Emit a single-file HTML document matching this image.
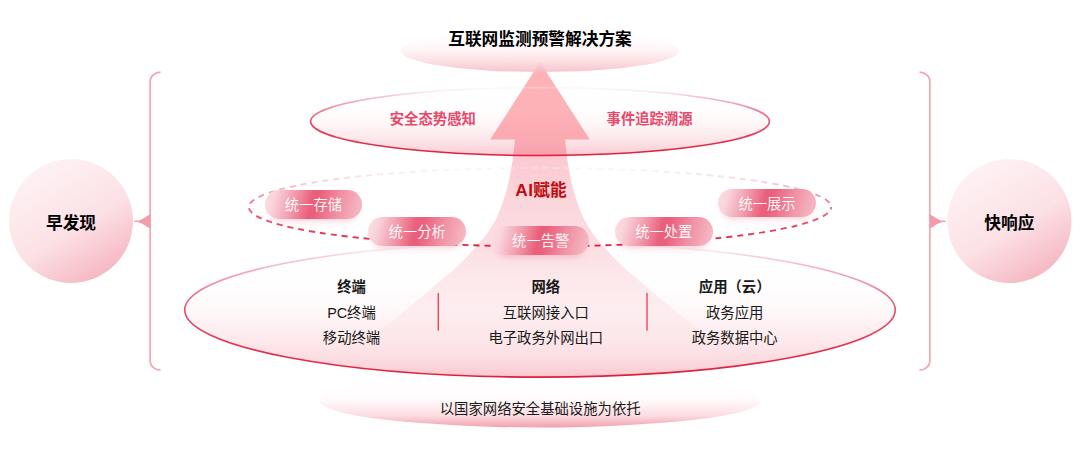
<!DOCTYPE html>
<html lang="zh-CN">
<head>
<meta charset="utf-8">
<title>互联网监测预警解决方案</title>
<style>
html,body{margin:0;padding:0;background:#fff;}
body{width:1080px;height:453px;overflow:hidden;position:relative;font-family:"Liberation Sans","Noto Sans CJK SC",sans-serif;}
#stage{position:absolute;left:0;top:0;width:1080px;height:453px;overflow:hidden;}
svg{position:absolute;left:0;top:0;display:block;}
.t{position:absolute;white-space:nowrap;transform:translate(-50%,-50%);line-height:1;color:#1a1a1a;font-size:14.35px;}
.b{font-weight:700;}
.h{font-size:16.7px;font-weight:700;color:#000;}
.r{color:#e8486a;font-weight:700;}
.pill{position:absolute;width:97.6px;height:28.6px;border-radius:14.3px;
 background:linear-gradient(104deg,#fce0e5 0%,#f9d3da 11%,#f299ab 30%,#ea607c 47%,#ea5f7b 53%,#f193a6 76%,#f6bfc9 100%);
 box-shadow:0 7px 7px -5px rgba(235,90,120,.28);
 color:#fff;font-size:14.3px;line-height:28.6px;text-align:center;font-weight:350;padding-top:1px;box-sizing:border-box;}
</style>
</head>
<body>
<div id="stage">
<svg width="1080" height="453" viewBox="0 0 1080 453">
 <defs>
  <linearGradient id="gTitle" x1="0" y1="0" x2="0" y2="1">
   <stop offset="0" stop-color="#ffffff" stop-opacity="0"/>
   <stop offset="0.3" stop-color="#fffafb" stop-opacity="0.85"/>
   <stop offset="0.5" stop-color="#fef1f3" stop-opacity="0.85"/>
   <stop offset="0.75" stop-color="#fbdade" stop-opacity="0.85"/>
   <stop offset="1" stop-color="#f6bac4" stop-opacity="0.85"/>
  </linearGradient>
  <linearGradient id="gBase" x1="0" y1="0" x2="0" y2="1">
   <stop offset="0" stop-color="#ffffff" stop-opacity="0"/>
   <stop offset="0.5" stop-color="#fffafb"/>
   <stop offset="0.78" stop-color="#fbdde2"/>
   <stop offset="1" stop-color="#f3a0af"/>
  </linearGradient>
  <linearGradient id="gFill" x1="0" y1="0" x2="0" y2="1">
   <stop offset="0" stop-color="#e61e3c" stop-opacity="0"/>
   <stop offset="0.3" stop-color="#e61e3c" stop-opacity="0.006"/>
   <stop offset="0.5" stop-color="#e61e3c" stop-opacity="0.03"/>
   <stop offset="0.75" stop-color="#e61e3c" stop-opacity="0.105"/>
   <stop offset="0.9" stop-color="#e61e3c" stop-opacity="0.175"/>
   <stop offset="1" stop-color="#e61e3c" stop-opacity="0.245"/>
  </linearGradient>
  <linearGradient id="gStroke" x1="0" y1="0" x2="0" y2="1">
   <stop offset="0" stop-color="#f2eef6" stop-opacity="0.35"/>
   <stop offset="0.05" stop-color="#f8e3ea" stop-opacity="0.7"/>
   <stop offset="0.12" stop-color="#f6c6d2"/>
   <stop offset="0.25" stop-color="#f09bb0"/>
   <stop offset="0.5" stop-color="#e6506e"/>
   <stop offset="1" stop-color="#de1e3c"/>
  </linearGradient>
  <linearGradient id="gStrokeBig" x1="0" y1="0" x2="0" y2="1">
   <stop offset="0" stop-color="#f8e3ea" stop-opacity="0"/>
   <stop offset="0.04" stop-color="#f8e3ea" stop-opacity="0.5"/>
   <stop offset="0.1" stop-color="#f7ced8"/>
   <stop offset="0.25" stop-color="#f09bb0"/>
   <stop offset="0.5" stop-color="#e6506e"/>
   <stop offset="1" stop-color="#de1e3c"/>
  </linearGradient>
  <linearGradient id="gDash" x1="0" y1="0" x2="0" y2="1">
   <stop offset="0" stop-color="#f0eef8" stop-opacity="0.4"/>
   <stop offset="0.06" stop-color="#f3e3ee" stop-opacity="0.7"/>
   <stop offset="0.22" stop-color="#f6c3cf"/>
   <stop offset="0.5" stop-color="#ea6a85"/>
   <stop offset="1" stop-color="#dc2444"/>
  </linearGradient>
  <linearGradient id="gArrow" gradientUnits="userSpaceOnUse" x1="0" y1="62" x2="0" y2="376">
   <stop offset="0" stop-color="#feb1b5"/>
   <stop offset="0.22" stop-color="#fdb5ba"/>
   <stop offset="0.31" stop-color="#fccad0"/>
   <stop offset="0.45" stop-color="#fbd7dc"/>
   <stop offset="0.6" stop-color="#fbdce1" stop-opacity="0.92"/>
   <stop offset="0.75" stop-color="#fcdfe4" stop-opacity="0.5"/>
   <stop offset="0.92" stop-color="#fbdfe3" stop-opacity="0"/>
  </linearGradient>
  <linearGradient id="gCircle" x1="0.22" y1="0.06" x2="0.78" y2="0.97">
   <stop offset="0" stop-color="#fef2f4"/>
   <stop offset="0.55" stop-color="#fce1e5"/>
   <stop offset="1" stop-color="#f5b4bf"/>
  </linearGradient>
 </defs>

 <!-- side brackets -->
 <path d="M160.5 72.2 A10.4 9.3 0 0 0 150.1 81.5 V360.8 A10.4 9.3 0 0 0 160.5 370.1" fill="none" stroke="#f5a5b4" stroke-width="1.7"/>
 <path d="M919.5 72.2 A10.4 9.3 0 0 1 929.9 81.5 V360.8 A10.4 9.3 0 0 1 919.5 370.1" fill="none" stroke="#f5a5b4" stroke-width="1.7"/>
 <path d="M150.2 214.2 L146.7 216.3 L144.0 218.0 L141.4 219.6 L138.7 220.5 L134.2 220.8 L134.2 222.0 L138.7 222.3 L141.4 223.2 L144.0 224.8 L146.7 226.5 L150.2 228.6 Z" fill="#f39aab"/>
 <path d="M929.8 214.2 L933.3 216.3 L936.0 218.0 L938.6 219.6 L941.3 220.5 L945.8 220.8 L945.8 222.0 L941.3 222.3 L938.6 223.2 L936.0 224.8 L933.3 226.5 L929.8 228.6 Z" fill="#f39aab"/>

 <!-- side circles -->
 <circle cx="71" cy="221" r="62" fill="url(#gCircle)"/>
 <circle cx="1009.4" cy="221" r="62" fill="url(#gCircle)"/>

 <!-- arrow -->
 <path d="M540 62 L589.8 139.5 L565.0 139.5 C565.3 142.1 566.1 149.9 566.8 155.0 C567.5 160.1 567.8 164.1 569.0 170.2 C570.2 176.3 571.5 184.1 573.8 191.8 C576.1 199.5 579.4 209.3 582.8 216.5 C586.2 223.7 589.5 228.8 594.0 235.0 C598.5 241.2 604.8 247.9 610.0 253.6 C615.2 259.3 620.1 264.1 625.5 269.0 C630.9 273.9 634.3 276.2 642.3 283.0 C650.3 289.8 664.0 301.8 673.5 309.5 C683.0 317.2 689.6 321.9 699.0 329.0 C708.4 336.1 719.3 344.2 730.0 352.0 C740.7 359.8 757.5 372.0 763.0 376.0 L317.0 376.0 C322.5 372.0 339.3 359.8 350.0 352.0 C360.7 344.2 371.6 336.1 381.0 329.0 C390.4 321.9 397.1 317.2 406.5 309.5 C415.9 301.8 429.7 289.8 437.7 283.0 C445.7 276.2 449.1 273.9 454.5 269.0 C459.9 264.1 464.8 259.3 470.0 253.6 C475.2 247.9 481.5 241.2 486.0 235.0 C490.5 228.8 493.8 223.7 497.2 216.5 C500.6 209.3 503.9 199.5 506.2 191.8 C508.5 184.1 509.8 176.3 511.0 170.2 C512.2 164.1 512.5 160.1 513.2 155.0 C513.9 149.9 514.7 142.1 515.0 139.5 L490.2 139.5 Z" fill="url(#gArrow)"/>
 <!-- base + title ellipses -->
 <ellipse cx="540" cy="400.4" rx="221" ry="27" fill="url(#gBase)"/>
 <ellipse cx="540" cy="51" rx="139" ry="21" fill="url(#gTitle)"/>


 <!-- ellipses -->
 <ellipse cx="540" cy="121.5" rx="229.4" ry="34" fill="url(#gFill)" stroke="url(#gStroke)" stroke-width="1.6"/>
 <ellipse cx="540" cy="310" rx="355.3" ry="67.1" fill="url(#gFill)" stroke="url(#gStrokeBig)" stroke-width="1.6"/>
 <ellipse cx="540" cy="207.1" rx="291.2" ry="39.2" fill="none" stroke="url(#gDash)" stroke-width="1.9" stroke-dasharray="6 5" stroke-dashoffset="3.7"/>

 <!-- separators -->
 <rect x="437.6" y="293" width="1.4" height="37.6" fill="#f04456"/>
 <rect x="646.3" y="293" width="1.4" height="37.6" fill="#f04456"/>
</svg>

<div class="pill" style="left:264.6px;top:190.4px;">统一存储</div>
<div class="pill" style="left:368.4px;top:217px;">统一分析</div>
<div class="pill" style="left:491.9px;top:226.4px;">统一告警</div>
<div class="pill" style="left:615px;top:217px;">统一处置</div>
<div class="pill" style="left:718.2px;top:188.7px;">统一展示</div>

<div class="t h" style="left:540px;top:39.6px;">互联网监测预警解决方案</div>
<div class="t r" style="left:432.8px;top:119.1px;">安全态势感知</div>
<div class="t r" style="left:649.6px;top:119.1px;">事件追踪溯源</div>
<div class="t h" style="left:541px;top:190.7px;color:#c4090f;"><span style="font-size:17.3px;letter-spacing:0.3px;">AI</span>赋能</div>
<div class="t h" style="left:71px;top:224px;">早发现</div>
<div class="t h" style="left:1009.4px;top:224px;">快响应</div>

<div class="t b" style="left:351.5px;top:287.4px;">终端</div>
<div class="t" style="left:351.5px;top:313.3px;">PC终端</div>
<div class="t" style="left:351.5px;top:338px;">移动终端</div>
<div class="t b" style="left:545.8px;top:287.4px;">网络</div>
<div class="t" style="left:545.8px;top:313.3px;">互联网接入口</div>
<div class="t" style="left:545.8px;top:338px;">电子政务外网出口</div>
<div class="t b" style="left:734.7px;top:287.4px;">应用（云）</div>
<div class="t" style="left:734.7px;top:313.3px;">政务应用</div>
<div class="t" style="left:734.7px;top:338px;">政务数据中心</div>
<div class="t" style="left:540.2px;top:409.3px;">以国家网络安全基础设施为依托</div>
</div>
</body>
</html>
